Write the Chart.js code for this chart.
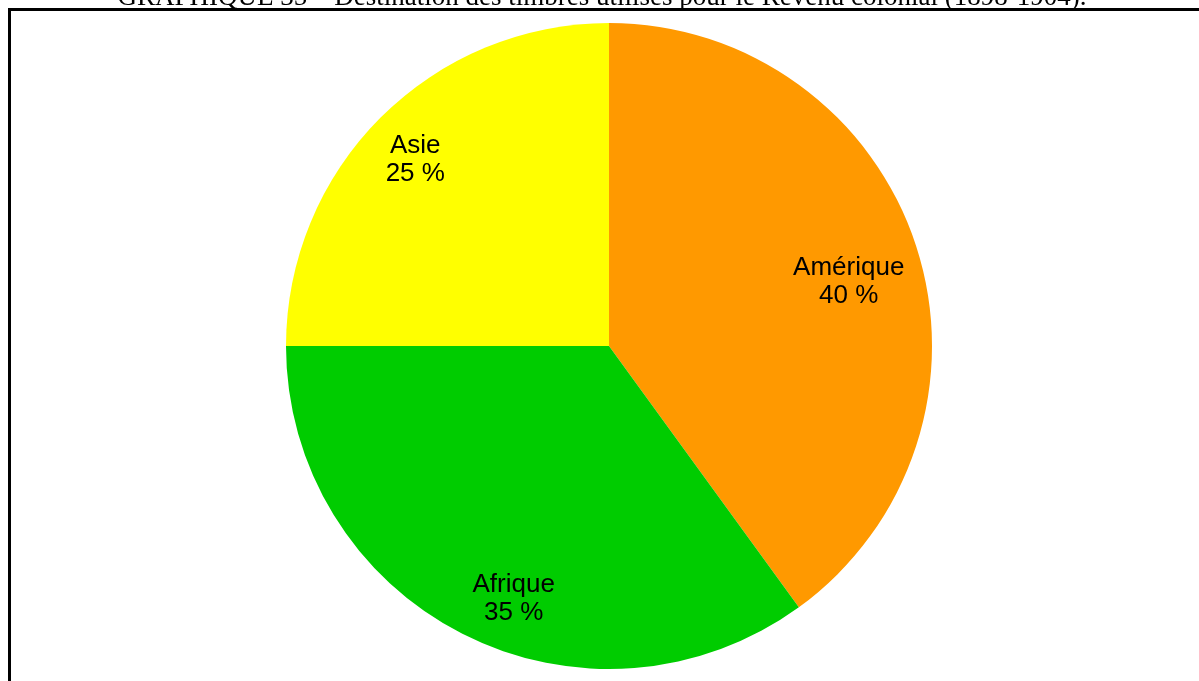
<!DOCTYPE html>
<html>
<head>
<meta charset="utf-8">
<script src="https://cdn.jsdelivr.net/npm/chart.js@4/dist/chart.umd.min.js"></script>
<style>
  html, body { margin: 0; padding: 0; background: #fff; overflow: hidden; }
  #holder { position: relative; width: 1199px; height: 681px; }
</style>
</head>
<body>
<div id="holder"><canvas id="chart" width="1199" height="681"></canvas></div>
<script>
// destinations of the stamps, in percent
const regions = ['Amérique', 'Afrique', 'Asie'];
const shares = [40, 35, 25];
const colours = ['#FF9900', '#00CC00', '#FFFF00'];
const titleText = 'GRAPHIQUE 35 – Destination des timbres utilisés pour le Revenu colonial (1898-1904).';

// labels written inside each slice: name on top, percent below
const sliceLabels = {
    id: 'sliceLabels',
    afterDatasetsDraw(chart) {
        const ctx = chart.ctx;
        const meta = chart.getDatasetMeta(0);
        // small hand nudges so the text sits where the old figure had it
        const nudge = [[-6, 16], [22, 23], [-11, -3]];
        ctx.save();
        ctx.font = '26px "Liberation Sans", Arial, sans-serif';
        ctx.fillStyle = '#000';
        ctx.textAlign = 'center';
        ctx.textBaseline = 'middle';
        meta.data.forEach((arc, i) => {
            const mid = (arc.startAngle + arc.endAngle) / 2;
            const r = arc.outerRadius * 0.8;
            const x = arc.x + Math.cos(mid) * r + nudge[i][0];
            const y = arc.y + Math.sin(mid) * r + nudge[i][1];
            ctx.fillText(regions[i], x, y - 14);
            ctx.fillText(shares[i] + ' %', x, y + 14);
        });
        ctx.restore();
    }
};

// caption line and the box around the figure
const frame = {
    id: 'frame',
    afterDraw(chart) {
        const ctx = chart.ctx;
        ctx.save();
        ctx.strokeStyle = '#000';
        ctx.lineWidth = 3;
        ctx.beginPath();
        ctx.moveTo(9.5, 700);
        ctx.lineTo(9.5, 9.5);
        ctx.lineTo(1210, 9.5);
        ctx.stroke();
        ctx.font = '27px "Liberation Serif", "Times New Roman", serif';
        ctx.fillStyle = '#000';
        ctx.textAlign = 'center';
        ctx.textBaseline = 'alphabetic';
        ctx.fillText(titleText, 602, 5);
        ctx.restore();
    }
};

new Chart(document.getElementById('chart'), {
    type: 'pie',
    data: {
        labels: regions,
        datasets: [{
            data: shares,
            backgroundColor: colours,
            borderWidth: 0
        }]
    },
    options: {
        responsive: false,
        animation: false,
        layout: { padding: { top: 23, bottom: 12, left: 19, right: 0 } },
        plugins: {
            legend: { display: false },
            tooltip: { enabled: false }
        }
    },
    plugins: [sliceLabels, frame]
});
</script>
</body>
</html>
